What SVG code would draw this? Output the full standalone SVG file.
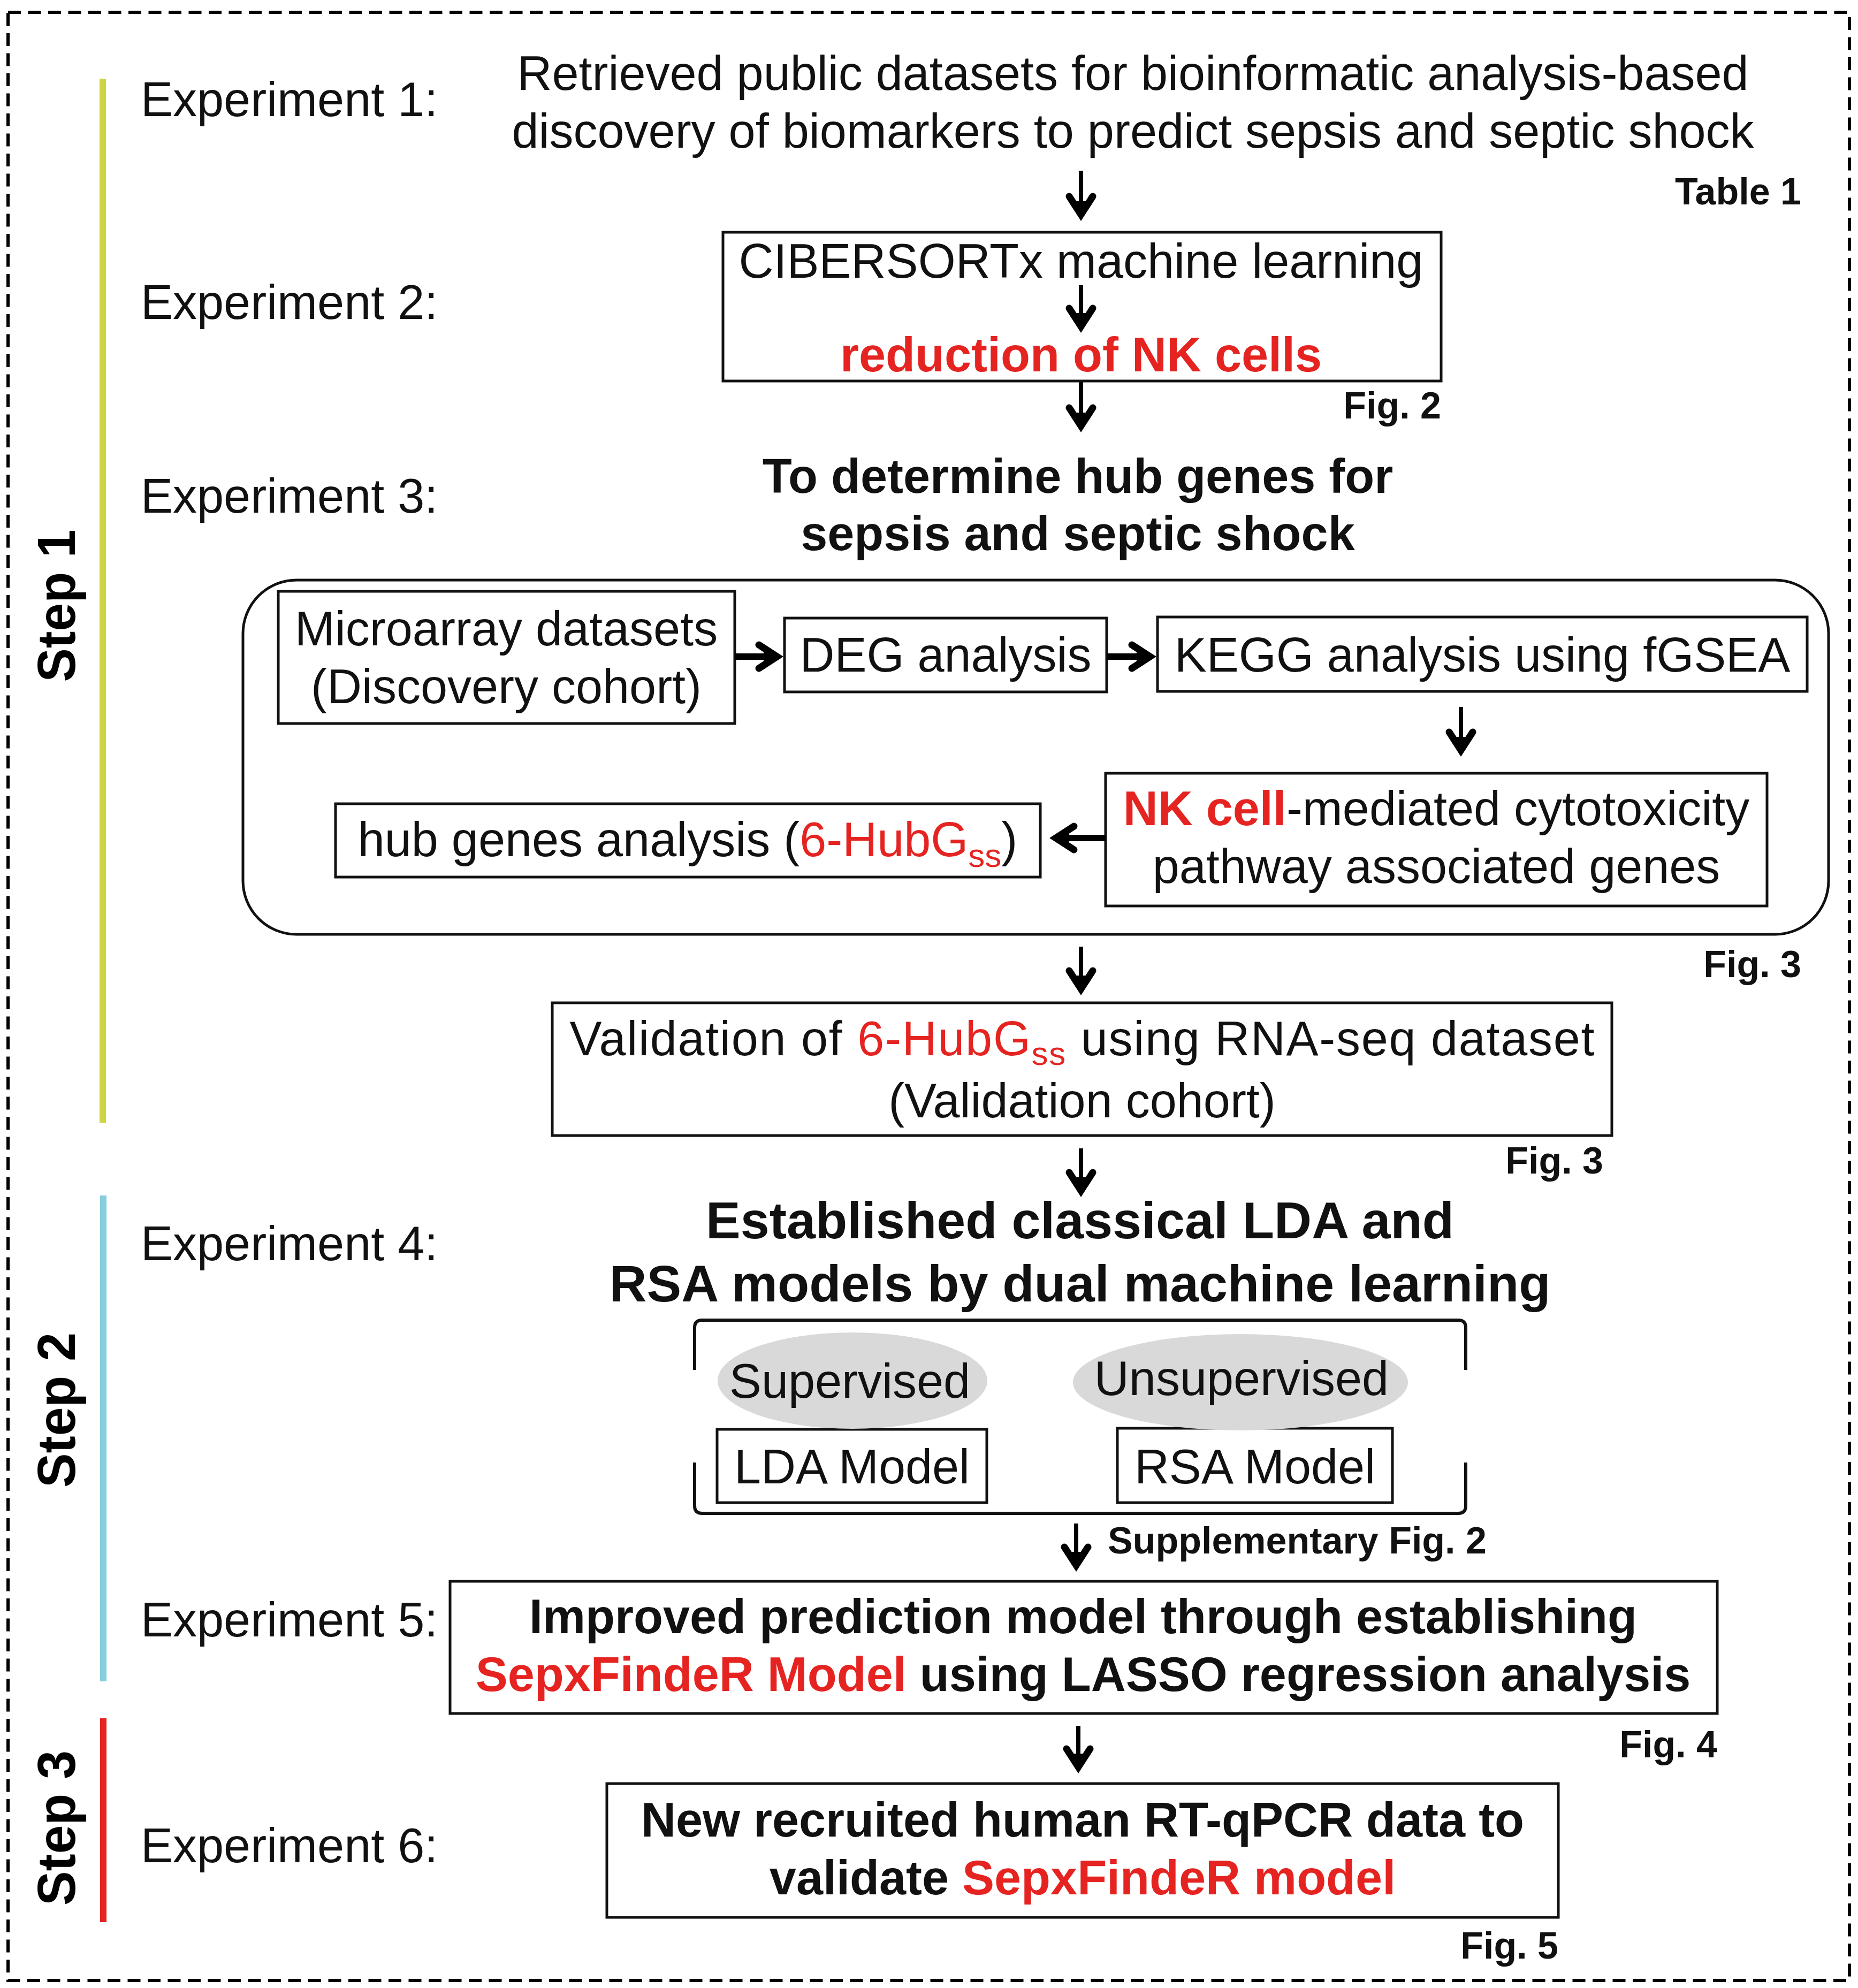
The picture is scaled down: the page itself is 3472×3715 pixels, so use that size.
<svg xmlns="http://www.w3.org/2000/svg" width="3472" height="3715" viewBox="0 0 3472 3715">
<defs>
<style>
.t{font-family:"Liberation Sans",Arial,Helvetica,sans-serif;font-size:90px;fill:#111}
.c{text-anchor:middle}
.e{text-anchor:end}
.b{font-weight:bold}
.bb{font-weight:bold;font-size:97px}
.r{fill:#e52421}
.sub{font-size:62px}
.fig{font-family:"Liberation Sans",Arial,Helvetica,sans-serif;font-size:70px;font-weight:bold;fill:#111}
.step{font-family:"Liberation Sans",Arial,Helvetica,sans-serif;font-size:100px;font-weight:bold;fill:#000;text-anchor:middle}
.box{fill:#fff;stroke:#111;stroke-width:5}
.ell{fill:#d9d9d9;stroke:none}
.arr{stroke:#000;stroke-width:8;fill:none;marker-end:url(#ah)}
.barr{stroke:#000;stroke-width:12;fill:none;marker-end:url(#ah)}
</style>
<marker id="ah" markerUnits="userSpaceOnUse" viewBox="-70 -40 80 80" markerWidth="80" markerHeight="80" refX="-20" refY="0" orient="auto" overflow="visible">
<path d="M-45,-22 L-11,0 L-45,22" fill="none" stroke="#000" stroke-width="13" stroke-linecap="round" stroke-linejoin="miter"/>
<path d="M-11,0 L-36,-12 L-36,12 Z" fill="#000"/>
</marker>
</defs>
<rect width="3472" height="3715" fill="#fff"/>

<rect id="frame" x="15" y="23" width="3441" height="3678" fill="none" stroke="#000" stroke-width="6" stroke-dasharray="24 13.5"/>

<g id="steps">
<rect x="186" y="147" width="12" height="1951" fill="#cfd444"/>
<rect x="187" y="2234" width="12" height="908" fill="#86cddd"/>
<rect x="187" y="3211" width="12" height="381" fill="#e52421"/>
<text class="step" transform="translate(140,1132) rotate(-90)" textLength="285" lengthAdjust="spacingAndGlyphs">Step 1</text>
<text class="step" transform="translate(140,2635) rotate(-90)" textLength="290" lengthAdjust="spacingAndGlyphs">Step 2</text>
<text class="step" transform="translate(140,3416) rotate(-90)" textLength="290" lengthAdjust="spacingAndGlyphs">Step 3</text>
</g>

<g id="labels">
<text class="t" x="263" y="217">Experiment 1:</text>
<text class="t" x="263" y="596">Experiment 2:</text>
<text class="t" x="263" y="958">Experiment 3:</text>
<text class="t" x="263" y="2355">Experiment 4:</text>
<text class="t" x="263" y="3058">Experiment 5:</text>
<text class="t" x="263" y="3480">Experiment 6:</text>
</g>

<g id="exp1">
<text class="t c" x="2117" y="168">Retrieved public datasets for bioinformatic analysis-based</text>
<text class="t c" x="2117" y="276">discovery of biomarkers to predict sepsis and septic shock</text>
<text class="fig e" x="3366" y="382">Table 1</text>
</g>

<g id="exp2">
<rect class="box" x="1351" y="434" width="1342" height="278"/>
<text class="t c" x="2020" y="519">CIBERSORTx machine learning</text>
<text class="t c b r" x="2020" y="694">reduction of NK cells</text>
<text class="fig e" x="2693" y="782">Fig. 2</text>
</g>

<g id="exp3">
<text class="t c b" x="2014" y="921">To determine hub genes for</text>
<text class="t c b" x="2014" y="1028">sepsis and septic shock</text>
</g>

<g id="container">
<rect x="454" y="1084" width="2963" height="662" rx="100" ry="100" fill="none" stroke="#111" stroke-width="5"/>
</g>

<g id="microarray">
<rect class="box" x="520" y="1105" width="853" height="247"/>
<text class="t c" x="946" y="1206">Microarray datasets</text>
<text class="t c" x="946" y="1314">(Discovery cohort)</text>
</g>

<g id="deg">
<rect class="box" x="1466" y="1155" width="602" height="138"/>
<text class="t c" x="1767" y="1255">DEG analysis</text>
</g>

<g id="kegg">
<rect class="box" x="2163" y="1153" width="1214" height="139"/>
<text class="t c" x="2770" y="1255">KEGG analysis using fGSEA</text>
</g>

<g id="nkpathway">
<rect class="box" x="2066" y="1445" width="1236" height="248"/>
<text class="t c" x="2684" y="1542"><tspan class="b r">NK cell</tspan>-mediated cytotoxicity</text>
<text class="t c" x="2684" y="1650">pathway associated genes</text>
</g>

<g id="hubgenes">
<rect class="box" x="627" y="1502" width="1317" height="137"/>
<text class="t c" x="1285" y="1600">hub genes analysis (<tspan class="r">6-HubG</tspan><tspan class="r sub" dy="20">ss</tspan><tspan dy="-20">)</tspan></text>
</g>

<text class="fig e" x="3366" y="1826">Fig. 3</text>

<g id="validation">
<rect class="box" x="1032" y="1874" width="1980" height="248"/>
<text class="t c" x="2022" y="1972" textLength="1915" lengthAdjust="spacing">Validation of <tspan class="r">6-HubG</tspan><tspan class="r sub" dy="18">ss</tspan><tspan dy="-18"> using RNA-seq dataset</tspan></text>
<text class="t c" x="2022" y="2088">(Validation cohort)</text>
<text class="fig e" x="2996" y="2193">Fig. 3</text>
</g>

<g id="exp4">
<text class="t c bb" x="2018" y="2314">Established classical LDA and</text>
<text class="t c bb" x="2018" y="2432">RSA models by dual machine learning</text>
<path d="M1298,2560 L1298,2481 Q1298,2467 1312,2467 L2725,2467 Q2739,2467 2739,2481 L2739,2560" fill="none" stroke="#111" stroke-width="6"/>
<path d="M1298,2733 L1298,2814 Q1298,2828 1312,2828 L2725,2828 Q2739,2828 2739,2814 L2739,2733" fill="none" stroke="#111" stroke-width="6"/>
</g>

<g id="lda">
<rect class="box" x="1340" y="2671" width="504" height="137"/>
<ellipse class="ell" cx="1593" cy="2580" rx="252" ry="90"/>
<text class="t c" x="1588" y="2612">Supervised</text>
<text class="t c" x="1592" y="2772">LDA Model</text>
</g>

<g id="rsa">
<rect class="box" x="2088" y="2669" width="514" height="139"/>
<ellipse class="ell" cx="2318" cy="2583" rx="313" ry="90"/>
<text class="t c" x="2320" y="2607">Unsupervised</text>
<text class="t c" x="2345" y="2772">RSA Model</text>
</g>

<text class="fig" x="2070" y="2903">Supplementary Fig. 2</text>

<g id="exp5">
<rect class="box" x="841" y="2955" width="2368" height="247"/>
<text class="t c b" x="2024" y="3052">Improved prediction model through establishing</text>
<text class="t c b" x="2024" y="3160"><tspan class="r">SepxFindeR Model</tspan> using LASSO regression analysis</text>
<text class="fig e" x="3209" y="3284">Fig. 4</text>
</g>

<g id="exp6">
<rect class="box" x="1134" y="3333" width="1778" height="250"/>
<text class="t c b" x="2023" y="3432">New recruited human RT-qPCR data to</text>
<text class="t c b" x="2023" y="3540">validate <tspan class="r">SepxFindeR model</tspan></text>
<text class="fig e" x="2912" y="3660">Fig. 5</text>
</g>

<g id="connectors">
<line class="arr" x1="2020" y1="319" x2="2020" y2="392"/>
<line class="arr" x1="2020" y1="533" x2="2020" y2="601"/>
<line class="arr" x1="2020" y1="714" x2="2020" y2="787"/>
<line class="barr" x1="1373" y1="1227" x2="1443" y2="1227"/>
<line class="barr" x1="2068" y1="1227" x2="2140" y2="1227"/>
<line class="arr" x1="2730" y1="1321" x2="2730" y2="1393"/>
<line class="barr" x1="2066" y1="1566" x2="1982" y2="1566"/>
<line class="arr" x1="2020" y1="1769" x2="2020" y2="1839"/>
<line class="arr" x1="2020" y1="2146" x2="2020" y2="2216"/>
<line class="arr" x1="2011" y1="2847" x2="2011" y2="2916"/>
<line class="arr" x1="2015" y1="3225" x2="2015" y2="3293"/>
</g>
</svg>
